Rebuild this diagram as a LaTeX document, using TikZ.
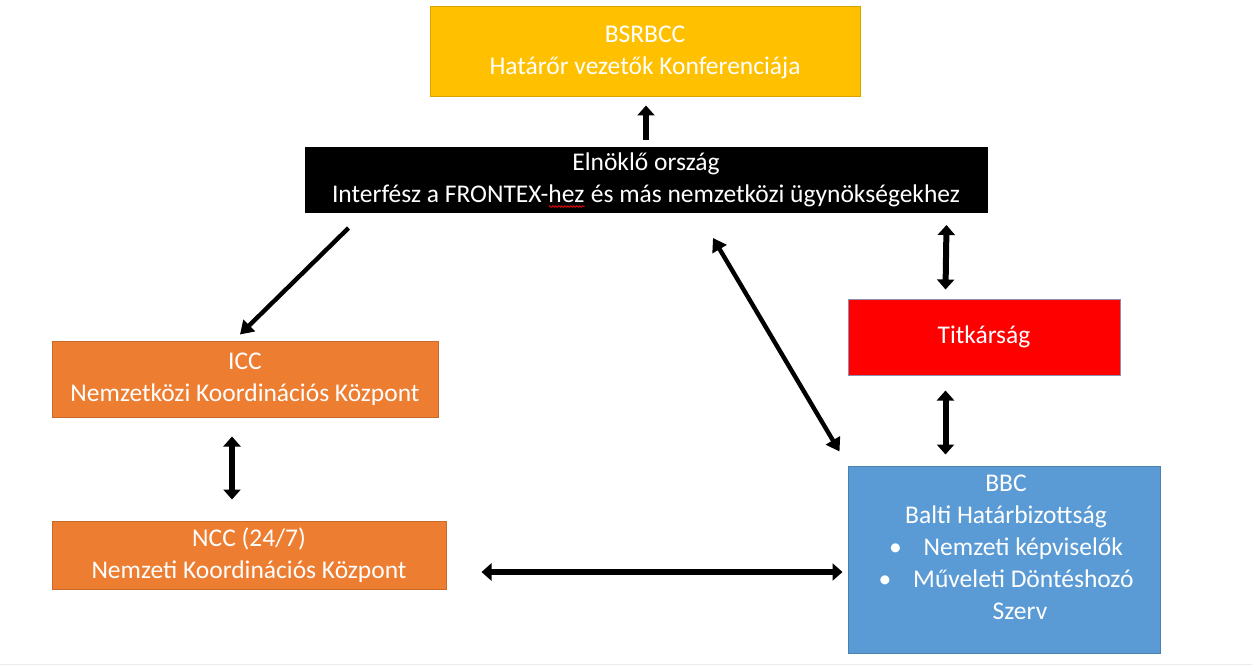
\documentclass[tikz,border=0pt]{standalone}
\usepackage{fontspec}
\setmainfont{Carlito}
\usetikzlibrary{arrows.meta,calc,decorations.pathmorphing}
\definecolor{bsrfill}{HTML}{FFC000}
\definecolor{bsrline}{HTML}{D9A300}
\definecolor{orgfill}{HTML}{ED7D31}
\definecolor{orgline}{HTML}{C9692A}
\definecolor{bbcfill}{HTML}{5B9BD5}
\definecolor{bbcline}{HTML}{4A7FB0}
\definecolor{titline}{HTML}{8E8EB0}
% word with a red wavy underline (spell-check mark)
\newsavebox{\redwavebox}
\newcommand{\redwave}[1]{%
  \sbox{\redwavebox}{#1}%
  \rlap{\usebox{\redwavebox}}%
  \tikz[baseline=0pt, x=1pt, y=1pt]{%
    \path (0,0) rectangle (\wd\redwavebox,1);
    \draw[red, line width=0.7pt, decorate,
      decoration={snake, amplitude=0.8pt, segment length=3pt}]
      (0,-4.5) -- (\wd\redwavebox,-4.5);}%
}
\tikzset{
  boxfont/.style={font=\fontsize{25.5}{32}\selectfont},
  box/.style={draw, line width=1pt, text=white, align=center, inner sep=0pt, boxfont},
  fatarrow/.style={line width=6pt, -{Triangle[length=10pt,width=17pt]}},
  fatboth/.style={line width=6pt, {Triangle[length=10pt,width=17pt]}-{Triangle[length=10pt,width=17pt]}},
  slimarrow/.style={line width=4.4pt, -{Triangle[length=13pt,width=16pt]}},
  slimboth/.style={line width=4.4pt, {Triangle[length=13pt,width=16pt]}-{Triangle[length=13pt,width=16pt]}},
}
\begin{document}
\begin{tikzpicture}[x=1pt,y=-1pt]
\useasboundingbox (0,0) rectangle (1252,666);
\fill[white] (0,0) rectangle (1252,666);
\draw[black!8, line width=0.8pt] (0,664) -- (1252,664);

% boxes
\node[box, fill=bsrfill, draw=bsrline, minimum width=430pt, minimum height=90pt]
  (bsr) at (645,52) {BSRBCC\\Határőr vezetők Konferenciája};
\node[box, fill=black, draw=black, minimum width=682pt, minimum height=65pt]
  (pres) at (646,180) {Elnöklő ország\\Interfész a FRONTEX-\redwave{hez} és más nemzetközi ügynökségekhez};
\node[box, fill=orgfill, draw=orgline, minimum width=386pt, minimum height=76pt]
  (icc) at (245,379) {ICC\\Nemzetközi Koordinációs Központ};
\node[box, fill=orgfill, draw=orgline, minimum width=394pt, minimum height=68pt]
  (ncc) at (249,555) {NCC (24/7)\\Nemzeti Koordinációs Központ};
\node[box, fill=red, draw=titline, minimum width=272pt, minimum height=76pt]
  (tit) at (984,337) {Titkárság};
\node[box, fill=bbcfill, draw=bbcline, minimum width=312pt, minimum height=187pt]
  (bbc) at (1004,559.5) {};
\node[text=white, align=center, inner sep=0pt, anchor=north, boxfont]
  (bbctext) at ($(bbc.north)+(2,9)$)
  {BBC\\Balti Határbizottság\\•\hspace{22pt}Nemzeti képviselők\\•\hspace{22pt}Műveleti Döntéshozó\\\hspace*{28pt}Szerv};

% connectors
\draw[fatarrow] ($(pres.north)+(0,-7)$) -- ($(bsr.south)+(1,8)$);
\draw[slimarrow] ($(pres.south west)+(44,15)$) -- ($(icc.north)+(-5,-6)$);
\draw[fatboth] ($(icc.south)+(-13,19)$) -- ($(ncc.north)+(-17,-21)$);
\draw[slimboth] ($(pres.south)+(67,25)$) -- ($(bbc.north west)+(-8,-14)$);
\draw[fatboth] ($(pres.south east)+(-41,12)$) -- ($(tit.north west)+(98,-9)$);
\draw[fatboth] ($(tit.south west)+(98,15)$) -- ($(bbc.north west)+(98,-11)$);
\draw[fatboth] ($(ncc.east)+(35,17)$) -- ($(bbc.west)+(-5,12.5)$);
\end{tikzpicture}
\end{document}
